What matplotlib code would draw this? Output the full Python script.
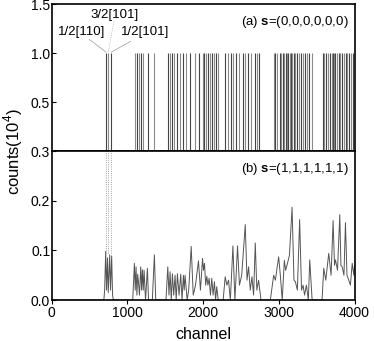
import matplotlib
matplotlib.use("Agg")
import matplotlib.pyplot as plt

plt.rcParams['font.family'] = ['Liberation Sans', 'DejaVu Sans']
plt.rcParams['mathtext.fontset'] = 'custom'
plt.rcParams['mathtext.rm'] = 'Liberation Sans'
plt.rcParams['mathtext.bf'] = 'Liberation Sans:bold'

# ================================
# DATA
# ================================
# (a) s=(0,0,0,0,0,0): channels that saturate at 1.0
lines_a = [718, 749, 788, 1102, 1128, 1155, 1177, 1212, 1278, 1353,
           1543, 1565, 1587, 1614, 1661, 1697, 1741, 1776, 1833, 1896, 1940,
           1993, 2015, 2041, 2071, 2094, 2120, 2143, 2173, 2196,
           2296, 2332, 2368, 2394, 2429, 2474, 2521, 2557, 2593, 2632, 2680,
           2706, 2742,
           2931, 2954, 2976, 3011, 3033, 3056, 3073, 3090, 3108, 3126, 3143,
           3161, 3178, 3196, 3214, 3241, 3267, 3294, 3320, 3347, 3373, 3400, 3439,
           3585, 3602, 3628, 3655, 3681, 3704, 3717, 3730, 3748, 3770, 3792,
           3814, 3837, 3858, 3881, 3903, 3924, 3955, 3981]
height_a = 1.0

# (b) s=(1,1,1,1,1,1): spectrum trace
chan_b = [0, 690, 700, 714, 725, 738, 748, 767, 778, 793, 805, 815,
          1071, 1093, 1104, 1115, 1126, 1137, 1150, 1160, 1177, 1188, 1199, 1210,
          1221, 1240, 1265, 1280, 1300, 1330, 1357, 1375,
          1510, 1534, 1550, 1564, 1580, 1595, 1612, 1630, 1645, 1661, 1683, 1705,
          1722, 1740, 1751, 1762, 1790, 1810, 1843, 1870, 1900, 1939, 1965, 1993,
          2005, 2019, 2034, 2049, 2064, 2080, 2097, 2115, 2132, 2150, 2165, 2180, 2200,
          2265, 2292, 2314, 2336, 2360, 2394, 2420, 2455, 2480, 2510, 2557, 2580,
          2601, 2623, 2645, 2667, 2689, 2710, 2733, 2765,
          2888, 2932, 2955, 2976, 2998, 3020, 3045, 3073, 3090, 3108, 3140, 3175,
          3200, 3219, 3245, 3275, 3300, 3320, 3340, 3364, 3390, 3408, 3440, 3460,
          3571, 3593, 3620, 3659, 3690, 3717, 3735, 3748, 3775, 3805, 3820, 3836,
          3860, 3880, 3900, 3924, 3945, 3969, 3990, 4000]
counts_b = [0, 0, 0.02, 0.098, 0.02, 0.085, 0.015, 0.091, 0.02, 0.089, 0.01, 0,
            0, 0.074, 0.02, 0.067, 0.01, 0.052, 0.03, 0.01, 0.067, 0.02, 0.061, 0.02,
            0.06, 0.0, 0.064, 0.0, 0, 0, 0.091, 0,
            0, 0.067, 0.01, 0.057, 0.0, 0.053, 0.01, 0.05, 0.0, 0.053, 0.01, 0.052,
            0.0, 0.05, 0.02, 0.05, 0.0, 0.02, 0.108, 0.01, 0.03, 0.079, 0.02, 0.084,
            0.06, 0.074, 0.03, 0.048, 0.03, 0.044, 0.01, 0.044, 0.01, 0.037, 0.0, 0.027, 0,
            0, 0.047, 0.03, 0.04, 0.0, 0.109, 0.0, 0.109, 0.03, 0.05, 0.152, 0.04,
            0.067, 0.02, 0.047, 0.01, 0.115, 0.02, 0.04, 0,
            0, 0.05, 0.04, 0.064, 0.087, 0.05, 0.0, 0.08, 0.06, 0.07, 0.09, 0.187,
            0.04, 0.037, 0.02, 0.162, 0.02, 0.03, 0.01, 0.03, 0.0, 0.081, 0.0, 0,
            0, 0.064, 0.04, 0.094, 0.05, 0.16, 0.07, 0.081, 0.06, 0.172, 0.07, 0.067,
            0.05, 0.156, 0.05, 0.04, 0.03, 0.074, 0.05, 0.07]

marked = [718, 749, 788]
labels = ["1/2[110]", "3/2[101]", "1/2[101]"]

# ================================
# FIGURE
# ================================
fig = plt.figure(figsize=(3.74, 3.41), dpi=100)
ax1 = fig.add_axes([0.138, 0.557, 0.81, 0.431])
ax2 = fig.add_axes([0.138, 0.120, 0.81, 0.437])

shades = ["#444444", "#8a8a8a"]
ax1.vlines(lines_a, 0, height_a,
           colors=[shades[i % 2] for i in range(len(lines_a))], lw=0.8)
ax1.set_xlim(0, 4000)
ax1.set_ylim(0, 1.5)
ax1.set_yticks([0.5, 1.0, 1.5])
ax1.set_yticklabels(["0.5", "1.0", "1.5"])
ax1.set_xticks([1000, 2000, 3000])
ax1.tick_params(axis="x", labelbottom=False, direction="out", length=3)
ax1.tick_params(axis="y", direction="in", length=3, labelsize=10, pad=1)

# annotation labels with leader lines
ax1.text(397, 1.22, labels[0], ha="center", va="center", fontsize=9.5)
ax1.text(837, 1.39, labels[1], ha="center", va="center", fontsize=9.5)
ax1.text(1234, 1.22, labels[2], ha="center", va="center", fontsize=9.5)
ax1.plot([497, marked[0]], [1.14, 1.01], color="#999999", lw=0.5)
ax1.plot([824, marked[1]], [1.33, 1.01], color="#999999", lw=0.5, ls=":")
ax1.plot([1045, marked[2]], [1.12, 1.01], color="#999999", lw=0.5)
ax1.text(3915, 1.32, r"(a) $\mathbf{s}$=(0,0,0,0,0,0)", ha="right",
         va="center", fontsize=9.5)

ax2.plot(chan_b, counts_b, color="#555555", lw=0.7)
ax2.vlines(marked, 0.095, 0.3, colors="#888888", lw=0.6, linestyles=":")
ax2.set_xlim(0, 4000)
ax2.set_ylim(0, 0.3)
ax2.set_xticks([0, 1000, 2000, 3000, 4000])
ax2.set_yticks([0.0, 0.1, 0.2, 0.3])
ax2.set_yticklabels(["0.0", "0.1", "0.2", "0.3"])
ax2.tick_params(axis="x", direction="out", length=3, labelsize=10, pad=1)
ax2.tick_params(axis="y", direction="in", length=3, labelsize=10, pad=1)
ax2.set_xlabel("channel", fontsize=11.5, labelpad=5)
ax2.text(3918, 0.263, r"(b) $\mathbf{s}$=(1,1,1,1,1,1)", ha="right",
         va="center", fontsize=9.5)

for ax in (ax1, ax2):
    for sp in ax.spines.values():
        sp.set_linewidth(1.2)

fig.text(0.035, 1 - 152 / 341, "counts(10$^4$)", rotation=90,
         ha="center", va="center", fontsize=12)

plt.savefig("out.png", dpi=100)
